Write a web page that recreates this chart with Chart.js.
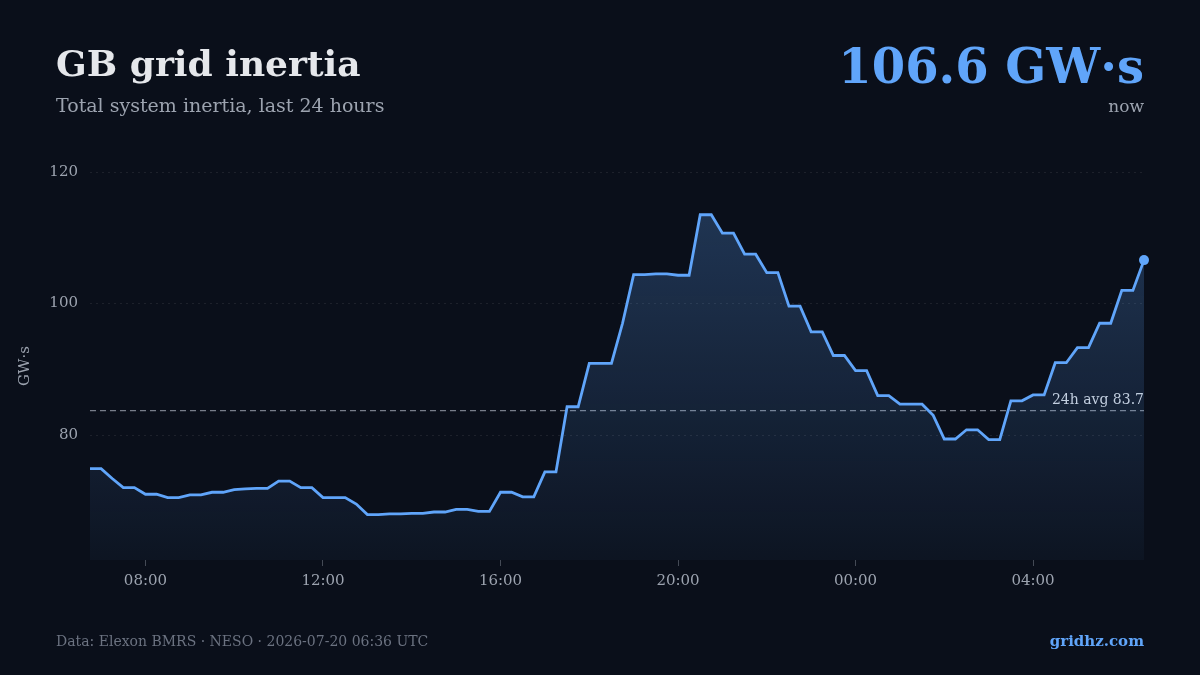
<!DOCTYPE html>
<html>
<head>
<meta charset="utf-8">
<script src="https://cdn.jsdelivr.net/npm/chart.js@4.4.1/dist/chart.umd.min.js"></script>
<style>
  html, body { margin: 0; padding: 0; background: #0a0f1a; }
  body { width: 1200px; height: 675px; position: relative; overflow: hidden; font-family: "DejaVu Serif", serif; }
  #wrap { position: absolute; left: 0; top: 0; width: 1200px; height: 675px; }
  .abs { position: absolute; white-space: nowrap; }
  #title { left: 56px; top: 42px; font-size: 36px; font-weight: bold; color: #e5e7eb; }
  #subtitle { left: 56px; top: 94px; font-size: 19px; color: #9ca3af; }
  #current { right: 56px; top: 38px; font-size: 48px; font-weight: bold; color: #60a5fa; }
  #now { right: 56px; top: 96px; font-size: 17px; color: #9ca3af; }
  #source { left: 56px; top: 633px; font-size: 14px; color: #6b7280; }
  #brand { right: 56px; top: 632px; font-size: 15px; font-weight: bold; color: #60a5fa; }
</style>
</head>
<body>
<div id="wrap"><canvas id="inertiaChart" width="1200" height="675"></canvas></div>
<div class="abs" id="title">GB grid inertia</div>
<div class="abs" id="subtitle">Total system inertia, last 24 hours</div>
<div class="abs" id="current">106.6 GW·s</div>
<div class="abs" id="now">now</div>
<div class="abs" id="source">Data: Elexon BMRS · NESO · 2026-07-20 06:36 UTC</div>
<div class="abs" id="brand">gridhz.com</div>

<script>
// 15-minute samples, starting 06:45 the previous day
const startHour = 6.75;
const stepHours = 0.25;

const inertia = [
  74.9, 74.9, 73.4, 72.0, 72.0, 71.0, 71.0, 70.5, 70.5, 70.9,
  70.9, 71.3, 71.3, 71.7, 71.8, 71.9, 71.9, 73.0, 73.0, 72.0,
  72.0, 70.5, 70.5, 70.5, 69.5, 67.9, 67.9, 68.0, 68.0, 68.1,
  68.1, 68.3, 68.3, 68.7, 68.7, 68.4, 68.4, 71.3, 71.3, 70.6,
  70.6, 74.4, 74.4, 84.3, 84.3, 90.9, 90.9, 90.9, 97.0, 104.4,
  104.4, 104.5, 104.5, 104.3, 104.3, 113.5, 113.5, 110.7, 110.7, 107.5,
  107.5, 104.7, 104.7, 99.6, 99.6, 95.7, 95.7, 92.1, 92.1, 89.8,
  89.8, 86.0, 86.0, 84.7, 84.7, 84.7, 83.0, 79.4, 79.4, 80.8,
  80.8, 79.3, 79.3, 85.2, 85.2, 86.1, 86.1, 91.0, 91.0, 93.3,
  93.3, 97.0, 97.0, 102.0, 102.0, 106.6
];

const xTicks = [8, 12, 16, 20, 24, 28];
const yTicks = [80, 100, 120];
const avgValue = 83.7;

const FONT = "'DejaVu Serif', serif";
const BLUE = "#60a5fa";

const points = inertia.map((v, i) => ({ x: startHour + i * stepHours, y: v }));

const avgLine = {
  id: "avgLine",
  beforeDatasetsDraw(chart) {
    const { ctx, chartArea, scales } = chart;
    const y = scales.y.getPixelForValue(avgValue);
    ctx.save();
    ctx.strokeStyle = "rgba(156,163,175,0.75)";
    ctx.lineWidth = 1.2;
    ctx.setLineDash([6, 4]);
    ctx.beginPath();
    ctx.moveTo(chartArea.left, y);
    ctx.lineTo(chartArea.right, y);
    ctx.stroke();
    ctx.setLineDash([]);
    ctx.fillStyle = "#d1d5db";
    ctx.font = "14px " + FONT;
    ctx.textAlign = "right";
    ctx.textBaseline = "alphabetic";
    ctx.fillText("24h avg " + avgValue.toFixed(1), chartArea.right, y - 7);
    ctx.restore();
  },
};

document.addEventListener("DOMContentLoaded", () => {
  const el = document.getElementById("inertiaChart");
  const last = inertia.length - 1;

  new Chart(el, {
    type: "line",
    data: {
      datasets: [
        {
          data: points,
          borderColor: BLUE,
          borderWidth: 2.8,
          tension: 0,
          clip: false,
          fill: "start",
          backgroundColor: (c) => {
            const area = c.chart.chartArea;
            if (!area) return "rgba(96,165,250,0.1)";
            const g = c.chart.ctx.createLinearGradient(0, area.top, 0, area.bottom);
            g.addColorStop(0, "rgba(96,165,250,0.28)");
            g.addColorStop(1, "rgba(96,165,250,0.04)");
            return g;
          },
          pointRadius: (c) => (c.dataIndex === last ? 5 : 0),
          pointBackgroundColor: BLUE,
          pointBorderWidth: 0,
        },
      ],
    },
    options: {
      responsive: false,
      animation: false,
      layout: { padding: { left: 0, right: 56, top: 172, bottom: 75 } },
      plugins: {
        legend: { display: false },
        tooltip: { enabled: false },
      },
      scales: {
        x: {
          type: "linear",
          min: startHour,
          max: startHour + last * stepHours,
          afterBuildTicks: (s) => { s.ticks = xTicks.map((v) => ({ value: v })); },
          afterFit: (s) => { s.height = 40; },
          grid: {
            drawOnChartArea: false,
            drawTicks: true,
            tickLength: 6,
            color: "rgba(156,163,175,0.4)",
          },
          border: { display: false },
          ticks: {
            padding: 6,
            maxRotation: 0,
            font: { family: FONT, size: 15 },
            color: "#9ca3af",
            callback: (v) => String(v % 24).padStart(2, "0") + ":00",
          },
        },
        y: {
          min: 61,
          max: 120,
          afterBuildTicks: (s) => { s.ticks = yTicks.map((v) => ({ value: v })); },
          afterFit: (s) => { s.width = 90; },
          grid: {
            drawTicks: false,
            color: "rgba(255,255,255,0.08)",
            lineWidth: 1,
          },
          border: { display: false, dash: [2, 4] },
          ticks: {
            padding: 12,
            font: { family: FONT, size: 15 },
            color: "#9ca3af",
          },
          title: {
            display: true,
            text: "GW·s",
            padding: { top: 16, bottom: 0 },
            font: { family: FONT, size: 15 },
            color: "#9ca3af",
          },
        },
      },
    },
    plugins: [avgLine],
  });
});
</script>
</body>
</html>
